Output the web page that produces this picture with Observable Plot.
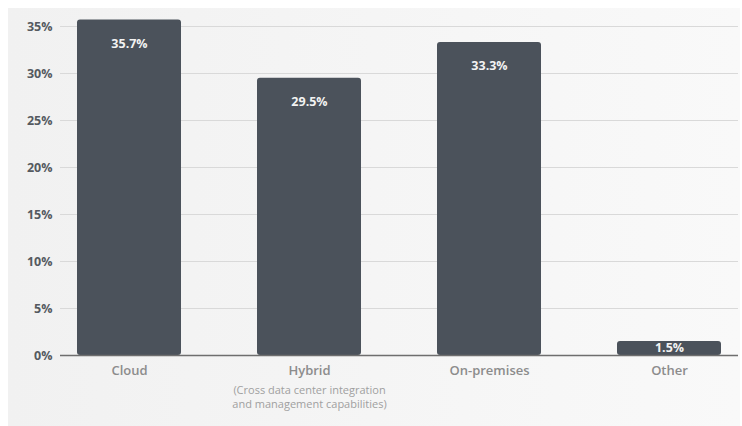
<!DOCTYPE html>
<html>
<head>
<meta charset="utf-8">
<script src="https://cdn.jsdelivr.net/npm/d3@7"></script>
<script src="https://cdn.jsdelivr.net/npm/@observablehq/plot@0.6"></script>
<style>
  html, body { margin: 0; padding: 0; background: #ffffff; }
  #panel {
    position: absolute; left: 8px; top: 8px; width: 732px; height: 418px;
    background: linear-gradient(to right, #f1f1f1, #f9f9f9);
  }
  #panel svg { display: block; }
</style>
</head>
<body>
<div id="panel"></div>
<script>
const categories = ["Cloud", "Hybrid", "On-premises", "Other"];
const values = [35.7, 29.5, 33.3, 1.5];
const subLabels = ["", "(Cross data center integration\nand management capabilities)", "", ""];
const yTicks = [0, 5, 10, 15, 20, 25, 30, 35];

const data = categories.map((c, i) => ({category: c, value: values[i], sub: subLabels[i]}));

const chart = Plot.plot({
  width: 732,
  height: 418,
  marginLeft: 52,
  marginRight: 2,
  marginTop: 18,
  marginBottom: 71,
  style: {fontFamily: "'Open Sans', sans-serif", background: "transparent"},
  x: {domain: categories, paddingInner: 0.42, paddingOuter: 0.093, label: null},
  y: {domain: [0, 35], label: null},
  marks: [
    Plot.gridY(yTicks, {stroke: "#d9d9d9", strokeOpacity: 1, strokeWidth: 1.2}),
    Plot.barY(data, {x: "category", y: "value", fill: "#4b525b", rx: 3}),
    Plot.ruleY([0], {stroke: "#6e6e6e", strokeWidth: 1.6}),
    Plot.text(data.filter(d => d.value > 5), {
      x: "category", y: "value", text: d => `${d.value}%`,
      dy: 24, fill: "#f2f2f2", fontSize: 12.5, fontWeight: "bold"
    }),
    Plot.text(data.filter(d => d.value <= 5), {
      x: "category", y: d => d.value / 2, text: d => `${d.value}%`,
      fill: "#f2f2f2", fontSize: 12.5, fontWeight: "bold"
    }),
    Plot.axisY(yTicks, {
      tickSize: 0, tickPadding: 8, tickFormat: d => `${d}%`,
      fill: "#555a60", fontSize: 12.5, fontWeight: "bold", label: null
    }),
    Plot.axisX({
      tickSize: 0, tickPadding: 10, fill: "#8c8c8c",
      fontSize: 13, fontWeight: "600", label: null
    }),
    Plot.text(data.filter(d => d.sub), {
      x: "category", y: 0, text: "sub", dy: 41, lineAnchor: "middle",
      lineHeight: 1.3, fill: "#a0a0a0", fontSize: 11
    })
  ]
});
document.getElementById("panel").appendChild(chart);
</script>
</body>
</html>
